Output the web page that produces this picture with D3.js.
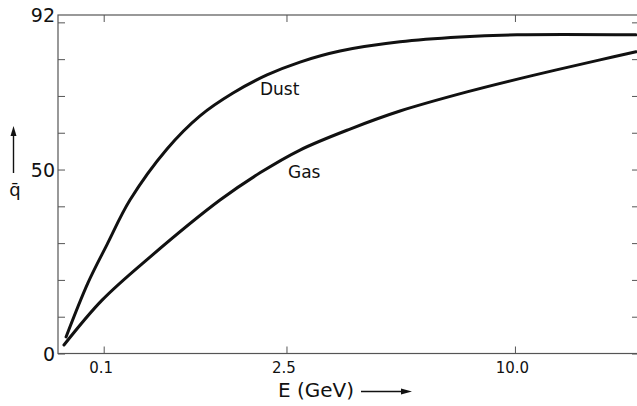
<!DOCTYPE html>
<html>
<head>
<meta charset="utf-8">
<script src="https://cdn.jsdelivr.net/npm/d3@7"></script>
<style>
  body { margin: 0; background: #fff; }
  text { font-family: "DejaVu Sans", "Liberation Sans", sans-serif; fill: #111; }
</style>
</head>
<body>
<svg id="chart" width="637" height="406"></svg>
<script>
// energies in GeV, mean charge q-bar
const dustE = [0.0031, 0.043, 0.115, 0.248, 0.569, 0.966, 1.467, 2.092, 2.805, 3.809, 5.602, 7.74, 10.09, 16];
const dustQ = [4.5, 19.2, 29.6, 41.7, 55.6, 64.6, 70.8, 75.7, 79.2, 82.2, 84.7, 86.0, 86.6, 86.6];
const gasE = [0.0017, 0.093, 0.405, 1.257, 1.954, 2.805, 4.084, 5.602, 8.011, 10.81, 14.07, 16];
const gasQ = [2.3, 14.5, 26.2, 41.7, 49.1, 55.3, 61.0, 65.9, 71.1, 75.6, 79.8, 82.0];
const xTicks = [0.1, 2.5, 10.0];
const xTickLabels = ["0.1", "2.5", "10.0"];
const yTicks = [0, 10, 20, 30, 40, 50, 60, 70, 80, 90];
const yLabelTicks = [0, 50, 92];

const inkColor = "#111";
const frameColor = "#555";
const plotLeft = 58, plotRight = 636, plotTop = 15, plotBottom = 353.5;

const svg = d3.select("#chart");

const x = d3.scaleSqrt().domain([0, 16]).range([plotLeft, plotRight]);
const y = d3.scaleLinear().domain([0, 92]).range([plotBottom, plotTop]);

// frame
svg.append("rect")
  .attr("x", plotLeft).attr("y", plotTop)
  .attr("width", plotRight - plotLeft + 4).attr("height", plotBottom - plotTop)
  .attr("fill", "none")
  .attr("stroke", frameColor)
  .attr("stroke-width", 1.2);

// bottom axis, ticks pointing up
const xAxis = svg.append("g")
  .attr("transform", `translate(0, ${plotBottom})`)
  .call(d3.axisBottom(x).tickValues(xTicks).tickSizeInner(-7).tickSizeOuter(0)
    .tickFormat((d, i) => xTickLabels[i]));
xAxis.select(".domain").remove();
xAxis.selectAll(".tick line").attr("stroke", frameColor);
xAxis.selectAll(".tick text")
  .attr("x", -3)
  .attr("y", 19).attr("dy", "0")
  .style("font-size", "15px")
  .style("font-family", "DejaVu Sans, sans-serif")
  .attr("fill", inkColor);

// top ticks, pointing down
const xTop = svg.append("g")
  .attr("transform", `translate(0, ${plotTop})`)
  .call(d3.axisTop(x).tickValues(xTicks).tickSizeInner(-7).tickSizeOuter(0).tickFormat(""));
xTop.select(".domain").remove();
xTop.selectAll(".tick line").attr("stroke", frameColor);

// left axis, ticks pointing in
const yAxis = svg.append("g")
  .attr("transform", `translate(${plotLeft}, 0)`)
  .call(d3.axisLeft(y).tickValues(yTicks).tickSizeInner(-7).tickSizeOuter(0).tickFormat(""));
yAxis.select(".domain").remove();
yAxis.selectAll(".tick line").attr("stroke", frameColor);

// right axis ticks
const yRight = svg.append("g")
  .attr("transform", `translate(637, 0)`)
  .call(d3.axisRight(y).tickValues(yTicks).tickSizeInner(-5).tickSizeOuter(0).tickFormat(""));
yRight.select(".domain").remove();
yRight.selectAll(".tick line").attr("stroke", frameColor);

// y labels
svg.selectAll(".ylab")
  .data(yLabelTicks)
  .enter()
  .append("text")
  .attr("class", "ylab")
  .attr("x", 55)
  .attr("y", (d) => y(d) + 7)
  .attr("text-anchor", "end")
  .style("font-size", "19px")
  .text((d) => d);

// curves
const line = d3.line()
  .x((d) => x(d[0]))
  .y((d) => y(d[1]))
  .curve(d3.curveCatmullRom.alpha(0.5));

const series = [
  { name: "Dust", pts: d3.zip(dustE, dustQ) },
  { name: "Gas", pts: d3.zip(gasE, gasQ) },
];

svg.selectAll(".curve")
  .data(series)
  .enter()
  .append("path")
  .attr("class", "curve")
  .attr("fill", "none")
  .attr("stroke", inkColor)
  .attr("stroke-width", 3)
  .attr("stroke-linecap", "round")
  .attr("d", (d) => line(d.pts));

// curve labels
svg.append("text").attr("x", 260).attr("y", 95).style("font-size", "17px").text("Dust");
svg.append("text").attr("x", 288).attr("y", 178).style("font-size", "17px").text("Gas");

// x title with arrow
svg.append("text").attr("x", 278).attr("y", 397).style("font-size", "20px").text("E (GeV)");
svg.append("line")
  .attr("x1", 361).attr("y1", 391.5).attr("x2", 404).attr("y2", 391.5)
  .attr("stroke", inkColor).attr("stroke-width", 1.4);
svg.append("path")
  .attr("d", "M412,391.5 L401,388.5 L401,394.5 Z")
  .attr("fill", inkColor);

// y title with arrow
svg.append("line")
  .attr("x1", 13.5).attr("y1", 134).attr("x2", 13.5).attr("y2", 173)
  .attr("stroke", inkColor).attr("stroke-width", 1.4);
svg.append("path")
  .attr("d", "M13.5,126 L10.5,136 L16.5,136 Z")
  .attr("fill", inkColor);
svg.append("text")
  .attr("x", 15).attr("y", 196)
  .attr("text-anchor", "middle")
  .style("font-size", "18px")
  .text("q\u0304");
</script>
</body>
</html>
